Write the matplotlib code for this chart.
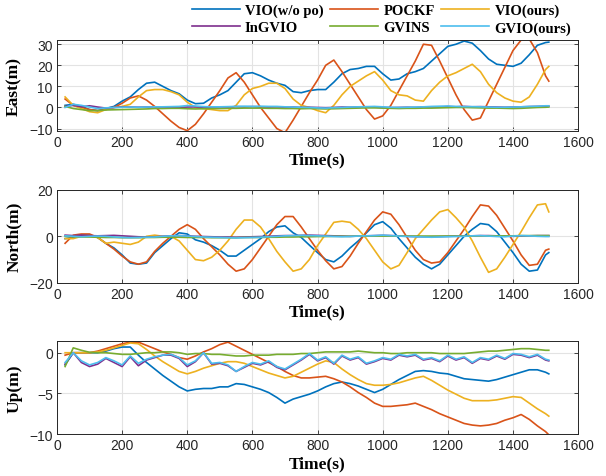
import matplotlib
matplotlib.use("Agg")
import matplotlib.pyplot as plt
import numpy as np

# sample times (s)
time_s = np.append(np.arange(25, 1501, 25), 1510)

labels = ["VIO(w/o po)", "POCKF", "VIO(ours)", "InGVIO", "GVINS", "GVIO(ours)"]
colors = ["#0072BD", "#D95319", "#EDB120", "#7E2F8E", "#77AC30", "#4DBEEE"]

east_vio_wo = [1, 1.5, 0.5, -1, -1.5, -0.5, 0.5, 3, 5, 8.5,
               11.5, 12, 10, 8, 6.5, 3.5, 1.8, 2, 4.5, 6,
               8, 12, 16, 16.5, 15, 13, 11.5, 10.5, 7.5, 7,
               8, 8.5, 8.5, 12, 16, 18, 18.5, 19.5, 19.5, 16,
               13, 13.5, 16, 17, 18.5, 22, 25.5, 29, 30, 31.5,
               30.5, 27, 23, 20.5, 20, 19.5, 21, 25, 29.5, 30.8,
               31]
east_pockf = [4, 1, 0, -1, -1.5, -1, 0, 2, 4.5, 5.5,
              3.5, 0.5, -3, -6.5, -9.5, -11, -8, -3, 2.5, 8,
              14, 16.5, 12, 6, 0, -5, -10, -12, -6, 0.5,
              7, 13, 20, 22.5, 17, 11, 5, -1, -5.5, -4,
              1, 8, 15, 22, 30, 29.5, 22, 14, 6, -1,
              -6, -5, 3, 11, 19, 27, 32, 32.5, 26, 15,
              12.5]
east_vio_ours = [5, 1, -0.5, -2, -2.5, -1, 0, 0.5, 1.5, 5,
                 8, 8.5, 8.5, 7.5, 6, 2.5, 0, -0.5, -1, -1.5,
                 -1.5, 1, 6, 9, 10, 11.5, 11.5, 9, 4, 1,
                 0, -1.5, -2.5, 1, 6, 10, 12.5, 15, 17, 13,
                 8, 6, 5.5, 3.5, 3, 8, 12, 15, 16.5, 18.5,
                 20.5, 17, 11, 7, 4.5, 3, 2.5, 5, 11, 18,
                 19.5]
east_ingvio = [0.5, 1, 0.3, 0.8, 0.2, -0.3, 0, 0.2, 0.2, 0.1,
               0.2, 0.3, 0.2, 0.1, 0, 0.2, 0.3, 0.1, 0.2, 0.3,
               0.2, 0.4, 0.3, 0.4, 0.3, 0.2, 0.3, 0.1, 0.2, 0,
               0.1, 0, -0.1, 0, 0.2, 0.1, 0.2, 0.3, 0.2, 0,
               -0.1, 0, 0.1, 0, 0.2, 0.3, 0.2, 0.4, 0.3, 0.5,
               0.3, 0.4, 0.3, 0.2, 0.1, 0.2, 0.3, 0.4, 0.5, 0.6,
               0.6]
east_gvins = [0.5, -0.5, -1, -1.5, -1.5, -1.2, -1.1, -1, -0.9, -0.8,
              -0.7, -0.5, -0.5, -0.4, -0.4, -0.6, -0.7, -0.6, -0.5, -0.5,
              -0.4, -0.4, -0.3, -0.3, -0.3, -0.4, -0.4, -0.5, -0.5, -0.6,
              -0.5, -0.6, -0.7, -0.6, -0.5, -0.4, -0.3, -0.2, -0.2, -0.3,
              -0.4, -0.5, -0.4, -0.4, -0.3, -0.3, -0.2, -0.1, 0, 0,
              -0.1, -0.2, -0.3, -0.3, -0.4, -0.5, -0.4, -0.2, 0, 0.1,
              0.2]
east_gvio = [0, 1.5, 1, 0.2, -0.5, -0.2, 0, 0.1, 0.2, 0.1,
             0.2, 0.3, 0.3, 0.4, 0.5, 0.9, 0.7, 0.4, 0.3, 0.3,
             0.4, 0.5, 0.6, 0.5, 0.6, 0.5, 0.5, 0.3, 0.2, 0.1,
             0, -0.2, -0.3, -0.1, 0, 0.2, 0.3, 0.4, 0.5, 0.3,
             0.1, 0, 0.1, 0.2, 0.3, 0.5, 0.6, 0.7, 0.5, 0.4,
             0.4, 0.3, 0.2, 0.1, 0.1, 0.2, 0.3, 0.5, 0.6, 0.8,
             0.8]

north_vio_wo = [-1, -0.5, 0.5, 0.5, -0.5, -3, -5, -8, -11.5, -12,
                -11.5, -7, -4, -1, 1.5, 1, -1.5, -2.5, -4, -6,
                -8.5, -8.5, -6, -3.5, -1, 2, 4, 4.5, 1.5, -0.5,
                -3.8, -7, -10, -11, -8.5, -5, -2, 1.5, 5, 6.3,
                3.5, -1, -5, -9, -12, -14, -12, -8, -4, 0,
                3, 5.5, 5, 2, -2.5, -7, -12, -15, -14.5, -8,
                -7]
north_pockf = [-3, 0.5, 1, 1, -0.5, -3, -5.5, -8.5, -11, -12,
               -11, -6.5, -3, 0, 3, 5, 3, -1, -4.5, -8,
               -12, -15, -14, -10, -5, 0, 5, 8.5, 8.5, 4,
               -1, -6, -10.5, -14, -13, -8.5, -3, 2, 7, 10.5,
               9.5, 5, -0.5, -6, -10, -11.5, -11, -7, -2, 3,
               8.5, 13.5, 13, 9, 3.5, -2, -8, -12.5, -12, -6,
               -5.5]
north_vio_ours = [-1, -1, 0, 0, -0.5, -3, -2.5, -3, -3.5, -2.5,
                  0, 0.5, 0, 0, -2, -6, -10, -10.5, -9, -6,
                  -2, 3, 7, 7, 4, -1, -6.5, -11, -15, -14,
                  -10, -4, 1, 6, 6.5, 6, 3, -1, -6, -11,
                  -14, -12.5, -7, -1, 3, 7, 10.5, 11.5, 8, 4,
                  -2, -9, -15.5, -14, -9, -3.5, 2, 8, 13.5, 14,
                  10.5]
north_ingvio = [0.5, 0.3, 0.5, 0.3, 0.2, 0.3, 0.4, 0.2, 0, -0.2,
                -0.3, -0.2, 0, 0.2, 0.3, 0.2, 0, -0.1, -0.2, -0.3,
                -0.3, -0.4, -0.3, -0.2, -0.1, 0, 0.2, 0.3, 0.3, 0.4,
                0.5, 0.4, 0.3, 0.2, 0.1, 0, 0.1, 0.2, 0.3, 0.4,
                0.3, 0.2, 0, -0.1, -0.2, -0.2, -0.1, 0, 0.1, 0.1,
                0.2, 0.3, 0.3, 0.2, 0.1, 0, 0.1, 0.2, 0.3, 0.3,
                0.3]
north_gvins = [0, -0.2, -0.3, -0.3, -0.4, -0.5, -0.5, -0.6, -0.6, -0.6,
               -0.5, -0.5, -0.4, -0.4, -0.4, -0.5, -0.5, -0.5, -0.6, -0.6,
               -0.6, -0.6, -0.5, -0.5, -0.5, -0.4, -0.4, -0.3, -0.3, -0.2,
               -0.2, -0.1, -0.1, 0, 0, 0, 0.1, 0.1, 0.1, 0.1,
               0.1, 0.1, 0.1, 0.1, 0.1, 0.1, 0.1, 0.1, 0.1, 0.1,
               0.1, 0.2, 0.2, 0.2, 0.2, 0.2, 0.3, 0.3, 0.3, 0.3,
               0.3]
north_gvio = [0.2, 0, -0.2, 0, 0.1, 0, -0.3, -0.5, -0.6, -0.5,
              -0.4, -0.3, 0, 0.2, 0.3, 0.1, -0.1, -0.3, -0.4, -0.5,
              -0.6, -0.7, -0.6, -0.5, -0.4, -0.2, 0, 0.2, 0.3, 0.4,
              0.3, 0.2, 0.1, -0.1, -0.2, -0.1, 0.1, 0.2, 0.3, 0.5,
              0.3, 0.1, -0.1, -0.2, -0.3, -0.4, -0.3, -0.2, -0.1, 0,
              0.2, 0.3, 0.1, -0.1, -0.2, 0.1, 0.3, 0.2, 0, -0.1,
              -0.1]

up_vio_wo = [-1.5, 0, 0, 0, 0, 0.2, 0.5, 0.7, 0.7, -0.3,
             -1.2, -2, -2.8, -3.5, -4.2, -4.7, -4.5, -4.4, -4.4, -4.2,
             -4.2, -3.8, -3.9, -4.2, -4.5, -4.9, -5.5, -6.2, -5.7, -5.4,
             -5.1, -4.7, -4.2, -3.8, -3.6, -3.8, -4.1, -4.5, -4.9, -4.5,
             -3.9, -3.3, -2.8, -2.3, -2.2, -2.3, -2.5, -2.6, -2.9, -3.2,
             -3.3, -3.4, -3.5, -3.3, -3.0, -2.7, -2.4, -2.1, -2.1, -2.4,
             -2.6]
up_pockf = [-0.3, 0, 0, 0, 0.2, 0.5, 0.8, 1.1, 1.3, 1.3,
            0.9, 0.5, 0.1, -0.2, -0.6, -0.8, -0.4, 0.1, 0.5, 1.0,
            1.3, 0.8, 0.3, -0.2, -0.7, -1.2, -1.7, -2.3, -2.8, -3.1,
            -3.1, -3.0, -2.9, -3.2, -3.6, -4.2, -4.9, -5.5, -6.2, -6.6,
            -6.6, -6.5, -6.4, -6.2, -6.6, -7.0, -7.5, -7.9, -8.3, -8.7,
            -8.9, -9.0, -8.9, -8.7, -8.3, -8.0, -7.6, -8.2, -9.0, -9.7,
            -10.1]
up_vio_ours = [0, 0, 0, 0, 0.1, 0.3, 0.6, 0.9, 1.2, 1.1,
               0.4, -0.4, -1.1, -1.7, -2.3, -2.6, -2.3, -1.9, -1.6, -1.3,
               -1.1, -1.1, -1.3, -1.7, -2.1, -2.5, -2.8, -3.1, -2.9, -2.4,
               -1.9, -1.4, -1.0, -1.2, -2.0, -2.7, -3.3, -3.8, -4.0, -4.0,
               -3.9, -3.7, -3.4, -3.1, -2.9, -3.4, -4.0, -4.6, -5.1, -5.6,
               -5.9, -5.9, -5.9, -5.8, -5.6, -5.4, -5.5, -6.2, -6.9, -7.5,
               -7.8]
up_ingvio = [-1.4, 0, -1.2, -1.7, -1.4, -0.7, -1.2, -1.7, -0.5, -1.6,
             -0.9, -0.6, -0.3, -0.3, -0.7, -1.7, -1.1, 0, -1.4, -1.3,
             -1.6, -2.3, -1.8, -1.3, -1.5, -1.1, -1.8, -2.1, -1.5, -0.9,
             -0.2, -1.0, -0.6, -1.4, -0.4, -0.9, -0.6, -1.4, -1.1, -0.7,
             -0.9, -0.3, -0.5, -0.3, -0.9, -0.7, -1.1, -0.4, -0.9, -0.6,
             -1.3, -0.7, -0.9, -0.4, -0.8, -0.2, -0.3, -0.6, -0.3, -0.9,
             -1.0]
up_gvins = [-1.7, 0.6, 0.3, 0.05, 0, 0, -0.1, -0.2, -0.2, -0.1,
            0, 0, 0.1, 0.1, 0, -0.2, -0.1, -0.1, -0.2, -0.2,
            -0.3, -0.4, -0.4, -0.3, -0.3, -0.3, -0.2, -0.2, -0.2, -0.1,
            -0.1, 0, 0.1, 0.1, 0.1, 0.1, 0.2, 0.1, 0, 0,
            -0.1, -0.1, 0, 0, 0, 0, -0.1, -0.1, -0.1, -0.1,
            0, 0.1, 0.2, 0.2, 0.3, 0.4, 0.5, 0.5, 0.4, 0.3,
            0.3]
up_gvio = [-1.2, 0, -1.0, -1.5, -1.2, -0.6, -1.0, -1.5, -0.4, -1.3,
           -0.8, -0.5, -0.3, -0.2, -0.6, -1.5, -1.0, 0, -1.3, -1.2,
           -1.5, -2.3, -1.7, -1.2, -1.4, -1.0, -1.7, -2.0, -1.4, -0.8,
           -0.1, -0.9, -0.5, -1.3, -0.3, -0.8, -0.5, -1.3, -1.0, -0.6,
           -0.8, -0.2, -0.4, -0.2, -0.8, -0.6, -1.0, -0.3, -0.8, -0.5,
           -1.2, -0.6, -0.8, -0.3, -0.7, -0.1, -0.2, -0.5, -0.2, -0.8,
           -0.9]

panels = [
    ("East(m)", [east_vio_wo, east_pockf, east_vio_ours, east_ingvio, east_gvins, east_gvio],
     (-11, 32), [-10, 0, 10, 20, 30]),
    ("North(m)", [north_vio_wo, north_pockf, north_vio_ours, north_ingvio, north_gvins, north_gvio],
     (-20, 20), [-20, 0, 20]),
    ("Up(m)", [up_vio_wo, up_pockf, up_vio_ours, up_ingvio, up_gvins, up_gvio],
     (-10, 1.5), [-10, -5, 0]),
]

# axes boxes in figure fractions [left, bottom, width, height]
boxes = [
    [0.094, 0.724, 0.860, 0.190],
    [0.094, 0.405, 0.860, 0.195],
    [0.094, 0.088, 0.860, 0.196],
]

plt.rcParams["font.family"] = "Liberation Sans"
label_font = {"family": "Liberation Serif", "weight": "bold", "size": 12.5}

fig = plt.figure(figsize=(6.06, 4.77), dpi=100)
handles = []
for (ylabel, series, ylim, yticks), box in zip(panels, boxes):
    ax = fig.add_axes(box)
    for values, color, name in zip(series, colors, labels):
        (line,) = ax.plot(time_s, values, color=color, linewidth=1.2, label=name)
        if len(handles) < len(labels):
            handles.append(line)
    ax.set_xlim(0, 1600)
    ax.set_ylim(*ylim)
    ax.set_xticks(np.arange(0, 1601, 200))
    ax.set_yticks(yticks)
    ax.grid(True, color="#e3e3e3", linewidth=0.8)
    ax.set_axisbelow(True)
    ax.tick_params(direction="in", top=True, right=True, labelsize=10,
                   colors="#262626", length=3, width=0.6, pad=3)
    for spine in ax.spines.values():
        spine.set_color("#262626")
        spine.set_linewidth(0.7)
    ax.set_xlabel("Time(s)", fontdict=label_font, labelpad=2)
    ax.set_ylabel(ylabel, fontdict=label_font)
    ax.yaxis.set_label_coords(-0.067, 0.5)

# legend fills column by column, so reorder to get rows like the reference
order = [0, 3, 1, 4, 2, 5]
fig.legend([handles[i] for i in order], [labels[i] for i in order],
           loc="upper right", bbox_to_anchor=(0.945, 0.994),
           ncol=3, frameon=False, prop={"family": "Liberation Serif", "weight": "bold", "size": 10.5},
           handlelength=3.3, handletextpad=0.35, columnspacing=0.45,
           labelspacing=0.3, borderpad=0.1, borderaxespad=0)

fig.savefig("out.png", dpi=100)
